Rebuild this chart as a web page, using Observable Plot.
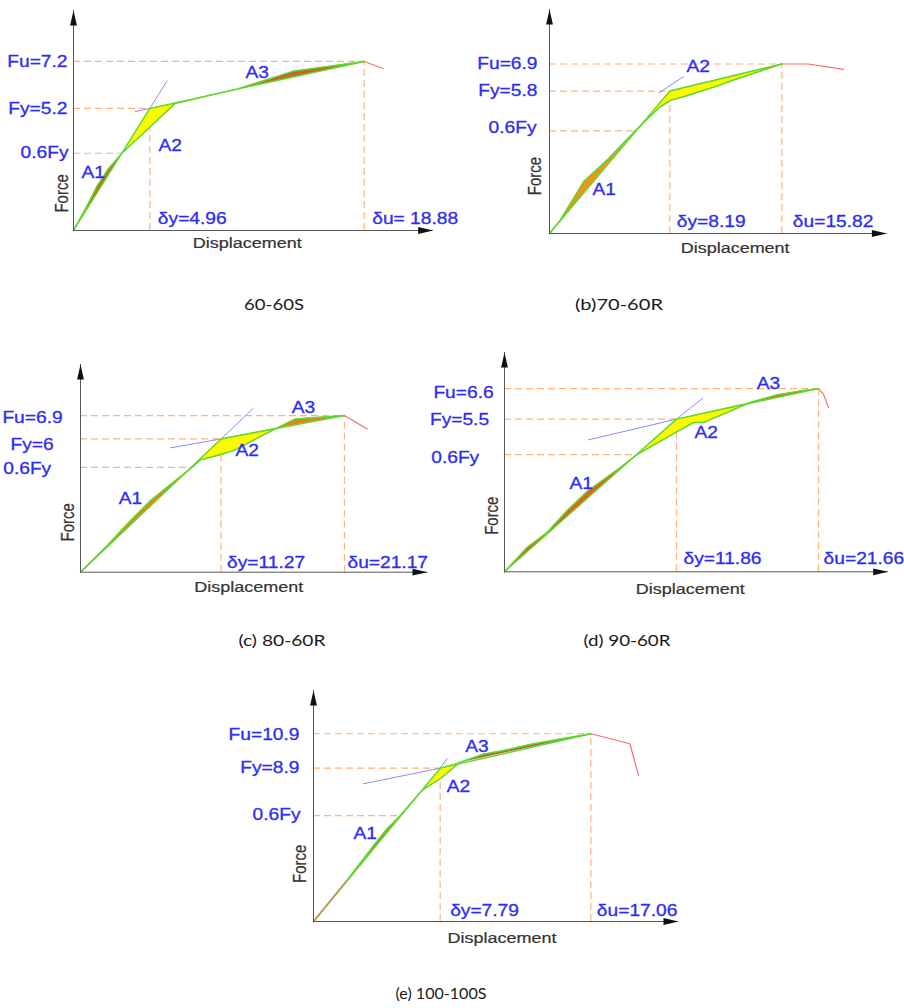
<!DOCTYPE html>
<html><head><meta charset="utf-8">
<script src="https://cdn.jsdelivr.net/npm/d3@7"></script>
<script src="https://cdn.jsdelivr.net/npm/@observablehq/plot@0.6"></script>
<style>
html,body{margin:0;padding:0;background:#fff;}
#page{position:relative;width:904px;height:1008px;overflow:hidden;background:#fff;}
.cap{position:absolute;font-family:Lato,"Open Sans",sans-serif;font-size:15px;color:#1a1a1a;white-space:nowrap;line-height:1;}
</style></head><body><div id="page"></div>
<script>
// ---------------- DATA ----------------
const captions = ["60-60S", "(b)70-60R", "(c) 80-60R", "(d) 90-60R", "(e) 100-100S"];
const fuLabels = ["Fu=7.2", "Fu=6.9", "Fu=6.9", "Fu=6.6", "Fu=10.9"];
const fyLabels = ["Fy=5.2", "Fy=5.8", "Fy=6", "Fy=5.5", "Fy=8.9"];
const f06Labels = ["0.6Fy", "0.6Fy", "0.6Fy", "0.6Fy", "0.6Fy"];
const dyLabels = ["δy=4.96", "δy=8.19", "δy=11.27", "δy=11.86", "δy=7.79"];
const duLabels = ["δu= 18.88", "δu=15.82", "δu=21.17", "δu=21.66", "δu=17.06"];
const axisTitles = ["Displacement", "Force"];

// [displacement, force]
const ultimatePoints = [[18.88, 7.2], [15.82, 6.9], [21.17, 6.9], [21.66, 6.6], [17.06, 10.9]];
const yieldPoints = [[4.96, 5.2], [8.19, 5.8], [11.27, 5.87], [11.86, 5.5], [7.79, 8.9]];
const axisMax = [[23.36, 9.37], [22.97, 9.12], [27.83, 9.15], [26.46, 7.9], [22.45, 13.41]];

const curve6060S = [[0,0],[0.955,1.15],[1.539,1.90],[2.253,2.62],[3.143,3.29],[6.604,5.41],[10.71,6.04],[14.29,6.79],[18.88,7.2]];
const curve7060R = [[0,0],[0.728,0.542],[2.315,2.103],[3.907,2.987],[5.834,4.181],[7.536,5.159],[8.285,5.432],[9.122,5.566],[11.40,6.00],[12.53,6.25],[15.82,6.9]];
const curve8060R = [[0,0],[2.141,1.176],[4.010,2.277],[5.613,3.157],[7.755,4.10],[8.957,4.62],[9.623,4.949],[10.96,5.139],[12.29,5.359],[15.77,6.358],[17.24,6.755],[21.17,6.9]];
const curve9060R = [[0,0],[1.545,0.875],[2.924,1.415],[4.303,2.197],[5.683,2.892],[7.979,3.756],[9.131,4.22],[12.0,5.077],[13.03,5.376],[13.72,5.376],[16.94,6.097],[18.79,6.374],[20.39,6.518],[21.66,6.6]];
const curve100100S = [[0,0],[2.054,2.381],[3.69,4.40],[4.514,5.37],[5.332,6.15],[6.667,7.607],[7.792,8.287],[9.022,9.251],[10.46,9.72],[11.69,9.93],[13.53,10.32],[17.06,10.9]];

const tail6060S = [[18.88,7.2],[20.11,6.9]];
const tail7060R = [[15.82,6.9],[17.63,6.9],[20.01,6.68]];
const tail8060R = [[21.17,6.9],[22.99,6.31]];
const tail9060R = [[21.66,6.6],[22.0,6.40],[22.34,5.92]];
const tail100100S = [[17.06,10.9],[19.46,10.32],[19.99,8.48]];

const tangent6060S = [[4.006,5.06],[4.96,5.2],[6.08,6.37]];
const tangent7060R = [[7.468,5.73],[9.10,6.38]];
const tangent8060R = [[7.217,5.478],[11.27,5.87],[13.85,7.21]];
const tangent9060R = [[5.793,4.753],[11.86,5.5],[13.68,6.255]];
const tangent100100S = [[3.075,7.996],[7.79,8.9],[8.204,9.448]];

// index in each curve: 0.6Fy point, A2 start/end, A3 start (null = none)
const idx06 = [4, 4, 5, 6, 4];
const a2Start = [4, 4, 5, 6, 5];
const a2End = [5, 10, 9, 10, 7];
const a3Start = [6, null, 9, 10, 7];

const areaNames = [["A1","A2","A3"], ["A1","A2"], ["A1","A2","A3"], ["A1","A2","A3"], ["A1","A2","A3"]];
const areaLabelPos = [
  [[1.28,2.47],[6.28,3.62],[11.93,6.73]],
  [[3.72,1.76],[10.12,6.80]],
  [[4.01,3.23],[13.37,5.36],[17.88,7.24]],
  [[5.29,3.16],[13.91,5.02],[18.21,6.76]],
  [[3.18,5.09],[8.92,7.84],[10.05,10.16]]
];
const forceTitleY = [1.58, 2.34, 2.2, 2.02, 3.35];
const dispTitleX = [11.28, 12.64, 13.5, 12.81, 11.59];

const curves = [curve6060S, curve7060R, curve8060R, curve9060R, curve100100S];
const tails = [tail6060S, tail7060R, tail8060R, tail9060R, tail100100S];
const tangents = [tangent6060S, tangent7060R, tangent8060R, tangent9060R, tangent100100S];

// ---------------- LAYOUT / STYLE ----------------
const layout = [
  {ox:73.3, oy:230, tx:433, ty:10, anchor:"end", ldx:[-6,-6,-5], ldy:[0,0,0], dyDx:8, duDx:8, dDy:-12, forceDx:-11, dispDy:13},
  {ox:549.3, oy:233.3, tx:886.7, ty:9.3, anchor:"end", ldx:[-12,-12,-13], ldy:[0,0,-2.6], dyDx:7, duDx:11, dDy:-11.3, forceDx:-14, dispDy:15},
  {ox:80, oy:571.7, tx:427, ty:364, anchor:"middle", ldx:[-48,-48.5,-53.3], ldy:[2,5.6,2], dyDx:6, duDx:3, dDy:-9, forceDx:-12, dispDy:15},
  {ox:504.3, oy:571, tx:888, ty:351.7, anchor:"middle", ldx:[-41,-45,-49.3], ldy:[4,1,3], dyDx:7, duDx:5, dDy:-13, forceDx:-12.6, dispDy:17},
  {ox:313.3, oy:921, tx:678.3, ty:690, anchor:"end", ldx:[-14,-14,-13], ldy:[1,0,-1], dyDx:10, duDx:6, dDy:-11, forceDx:-13, dispDy:17}
];
const fillA13 = ["#c8662a", "#f0921c", "#e8821e", "#e4621c", "#b8642e"];
const captionPos = [[274,304,60],[619,304,88],[282,640,87],[627,640,87],[441,993,91]];
const GREEN = "#62d630", BLUE = "#2e2ef0", DASH = "#ffb27a", TANGENT = "#8c8cf0", TAIL = "#f07070", AXIS = "#555";

const arrowHead = { draw(ctx) { ctx.moveTo(0, 0); ctx.lineTo(3.4, 15); ctx.lineTo(-3.4, 15); ctx.closePath(); } };

const page = document.getElementById("page");
const ML = 80, MR = 30, MT = 8, MB = 30;

for (let i = 0; i < 5; i++) {
  const L = layout[i];
  const curve = curves[i];
  const yp = yieldPoints[i], up = ultimatePoints[i], p06 = curve[idx06[i]];
  const bilinear = [[0,0], yp, up];
  const A1 = curve.slice(0, idx06[i] + 1);
  const A2 = curve.slice(a2Start[i], a2End[i] + 1).concat([yp]);
  const A3 = a3Start[i] == null ? [] : curve.slice(a3Start[i]);
  const X = d => d[0], Y = d => d[1];
  const W = ML + (L.tx - L.ox) + MR;
  const H = MT + (L.oy - L.ty) + MB;
  const labelTexts = [fuLabels[i], fyLabels[i], f06Labels[i]];
  const labelPts = [up, yp, p06];
  const blueText = {fill: BLUE, fontSize: 16, stroke: BLUE, strokeWidth: 0.3};
  const marks = [
    Plot.ruleY(labelPts, {y: Y, x1: 0, x2: X, stroke: DASH, strokeWidth: 1.2, strokeDasharray: "7,4"}),
    Plot.ruleX([yp, up], {x: X, y1: 0, y2: Y, stroke: DASH, strokeWidth: 1.2, strokeDasharray: "7,4"}),
    Plot.line(A1, {x: X, y: Y, fill: fillA13[i], stroke: GREEN, strokeWidth: 0.8}),
    Plot.line(A2, {x: X, y: Y, fill: "#fbfb00", stroke: GREEN, strokeWidth: 0.8}),
    A3.length ? Plot.line(A3, {x: X, y: Y, fill: fillA13[i], stroke: GREEN, strokeWidth: 0.8}) : null,
    Plot.line(tangents[i], {x: X, y: Y, stroke: TANGENT, strokeWidth: 1}),
    Plot.line(tails[i], {x: X, y: Y, stroke: TAIL, strokeWidth: 1.2}),
    Plot.line(bilinear, {x: X, y: Y, stroke: GREEN, strokeWidth: 1.4}),
    Plot.line(curve, {x: X, y: Y, stroke: GREEN, strokeWidth: 1.4}),
    i === 4 ? Plot.line(curve.slice(0, 2), {x: X, y: Y, stroke: "#d98a66", strokeWidth: 1.4}) : null,
    Plot.ruleX([0], {x: 0, y1: 0, y2: axisMax[i][1], stroke: AXIS, strokeWidth: 1}),
    Plot.ruleY([0], {y: 0, x1: 0, x2: axisMax[i][0], stroke: AXIS, strokeWidth: 1}),
    Plot.dot([0], {x: 0, y: axisMax[i][1], symbol: arrowHead, fill: "#111", stroke: "none"}),
    Plot.dot([0], {x: axisMax[i][0], y: 0, symbol: arrowHead, rotate: 90, fill: "#111", stroke: "none"})
  ];
  for (let k = 0; k < 3; k++) {
    marks.push(Plot.text([labelTexts[k]], {x: 0, y: labelPts[k][1], text: d => d, textAnchor: L.anchor,
      dx: L.ldx[k], dy: L.ldy[k], ...blueText}));
  }
  marks.push(Plot.text([dyLabels[i]], {x: yp[0], y: 0, text: d => d, textAnchor: "start", dx: L.dyDx, dy: L.dDy, ...blueText}));
  marks.push(Plot.text([duLabels[i]], {x: up[0], y: 0, text: d => d, textAnchor: "start", dx: L.duDx, dy: L.dDy, ...blueText}));
  marks.push(Plot.text(areaNames[i], {x: (d, j) => areaLabelPos[i][j][0], y: (d, j) => areaLabelPos[i][j][1], text: d => d, ...blueText}));
  marks.push(Plot.text([axisTitles[1]], {x: 0, y: forceTitleY[i], text: d => d, rotate: -90, dx: L.forceDx, fill: "#333", fontSize: 15, stroke: "#333", strokeWidth: 0.2}));
  marks.push(Plot.text([axisTitles[0]], {x: dispTitleX[i], y: 0, text: d => d, dy: L.dispDy, fill: "#333", fontSize: 15, stroke: "#333", strokeWidth: 0.2}));

  const svg = Plot.plot({
    width: W, height: H, marginLeft: ML, marginRight: MR, marginTop: MT, marginBottom: MB,
    x: {domain: [0, axisMax[i][0]], axis: null},
    y: {domain: [0, axisMax[i][1]], axis: null},
    style: "background:none;overflow:visible;font-family:'Liberation Sans',Arial,sans-serif;max-width:none;",
    marks: marks.filter(m => m)
  });
  svg.style.position = "absolute";
  svg.style.left = (L.ox - ML) + "px";
  svg.style.top = (L.ty - MT) + "px";
  svg.querySelectorAll("text").forEach(t => {
    const tr = t.getAttribute("transform");
    if (tr) t.setAttribute("transform", tr + (tr.includes("rotate") ? " scale(1,1.2)" : " scale(1.2,1)"));
  });
  page.appendChild(svg);
}

captions.forEach((c, i) => {
  const d = document.createElement("div");
  d.className = "cap";
  d.textContent = c;
  page.appendChild(d);
  const w = d.getBoundingClientRect().width;
  const s = captionPos[i][2] / w;
  d.style.left = captionPos[i][0] + "px";
  d.style.top = captionPos[i][1] + "px";
  d.style.transform = `translate(-50%,-50%) scaleX(${s.toFixed(3)})`;
});
</script>
</body></html>
